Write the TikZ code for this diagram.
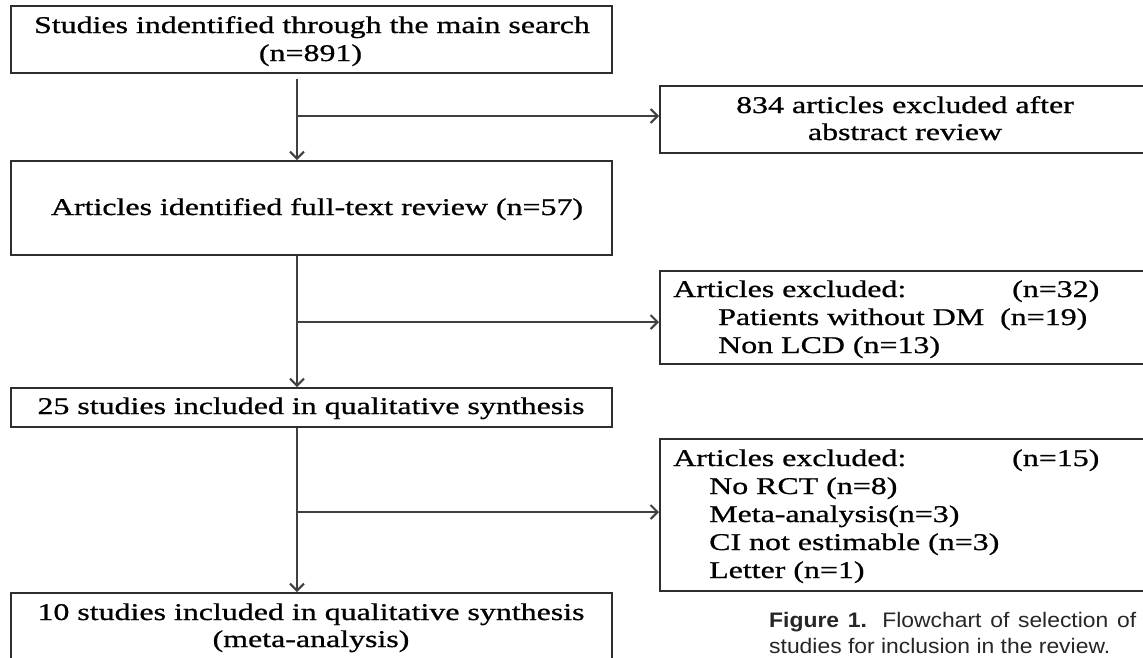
\documentclass[tikz,border=0pt]{standalone}
\usepackage{fontspec}
\setmainfont{Liberation Serif}[FakeStretch=1.33,FakeBold=0.8]
\newfontfamily\capfont{Liberation Sans}[FakeStretch=1.09]
\usetikzlibrary{arrows.meta}
\tikzset{
  box/.style={draw=black!82, line width=2.2pt, inner sep=0pt, anchor=north west},
  txt/.style={inner sep=0pt, font=\fontsize{24}{28}\selectfont},
  capt/.style={inner sep=0pt, anchor=base west, font=\capfont\fontsize{21}{26}\selectfont, text=black!85},
  arr/.style={draw=black!75, line width=2pt, -{Straight Barb[length=7pt,width=14pt]}}
}
\begin{document}
\begin{tikzpicture}[x=1pt,y=-1pt]
\useasboundingbox (0,0) rectangle (1143,657);
\fill[white] (0,0) rectangle (1143,657);
\clip (0,0) rectangle (1143,657);
% boxes
\node[box, minimum width=601pt, minimum height=67pt] (b1) at (10,5) {};
\node[box, minimum width=500pt, minimum height=67pt] (e1) at (659,85) {};
\node[box, minimum width=601pt, minimum height=94pt] (b2) at (10,160) {};
\node[box, minimum width=500pt, minimum height=93pt] (e2) at (659,270) {};
\node[box, minimum width=601pt, minimum height=39pt] (b3) at (10,387) {};
\node[box, minimum width=500pt, minimum height=152pt] (e3) at (659,438) {};
\node[box, minimum width=601pt, minimum height=120pt] (b4) at (10,592) {};
% texts
\node[txt, anchor=base] (t1a) at (312,33) {Studies indentified through the main search};
\node[txt, anchor=base] (t1b) at (310.5,61) {(n=891)};
\node[txt, anchor=base] (t2) at (317,215) {Articles identified full-text review (n=57)};
\node[txt, anchor=base] (t3) at (311,414) {25 studies included in qualitative synthesis};
\node[txt, anchor=base] (t4a) at (311,620) {10 studies included in qualitative synthesis};
\node[txt, anchor=base] (t4b) at (311,647) {(meta-analysis)};
\node[txt, anchor=base] (u1a) at (905,113) {834 articles excluded after};
\node[txt, anchor=base] (u1b) at (905,140) {abstract review};
\node[txt, anchor=base west] (u2a) at (673,297) {Articles excluded:};
\node[txt, anchor=base west] (u2n) at (1012,297) {(n=32)};
\node[txt, anchor=base west] (u2b) at (718,325) {Patients without DM~ (n=19)};
\node[txt, anchor=base west] (u2c) at (718,353) {Non LCD (n=13)};
\node[txt, anchor=base west] (u3a) at (673,466) {Articles excluded:};
\node[txt, anchor=base west] (u3n) at (1012,466) {(n=15)};
\node[txt, anchor=base west] (u3b) at (709,494) {No RCT (n=8)};
\node[txt, anchor=base west] (u3c) at (709,522) {Meta-analysis(n=3)};
\node[txt, anchor=base west] (u3d) at (709,550) {CI not estimable (n=3)};
\node[txt, anchor=base west] (u3e) at (709,578) {Letter (n=1)};
% caption
\node[capt] (cap1) at (769,627) {\makebox[367pt][s]{\textbf{Figure 1.} Flowchart of selection of}};
\node[capt] (cap2) at (769,653) {studies for inclusion in the review.};
% connectors
\coordinate (s1) at (297,79);
\coordinate (j1) at (297,116);
\coordinate (j2) at (297,322);
\coordinate (j3) at (297,512);
\draw[arr] (s1) -- (s1 |- b2.north);
\draw[arr] (j1) -- (j1 -| e1.west);
\draw[arr] (b2.south -| s1) -- (s1 |- b3.north);
\draw[arr] (j2) -- (j2 -| e2.west);
\draw[arr] (b3.south -| s1) -- (s1 |- b4.north);
\draw[arr] (j3) -- (j3 -| e3.west);
\end{tikzpicture}
\end{document}
